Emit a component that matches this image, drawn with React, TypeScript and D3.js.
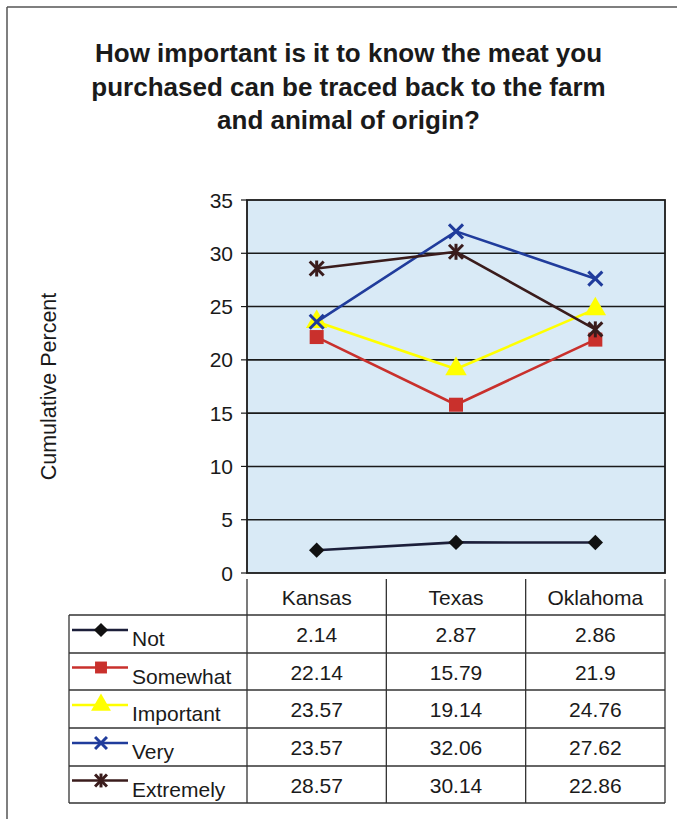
import React from "react";
import * as d3 from "d3";

const categories = ["Kansas", "Texas", "Oklahoma"];
const seriesNames = ["Not", "Somewhat", "Important", "Very", "Extremely"];
const notValues = [2.14, 2.87, 2.86];
const somewhatValues = [22.14, 15.79, 21.9];
const importantValues = [23.57, 19.14, 24.76];
const veryValues = [23.57, 32.06, 27.62];
const extremelyValues = [28.57, 30.14, 22.86];
const valueLabels = [
  ["2.14", "2.87", "2.86"],
  ["22.14", "15.79", "21.9"],
  ["23.57", "19.14", "24.76"],
  ["23.57", "32.06", "27.62"],
  ["28.57", "30.14", "22.86"],
];
const yTicks = [0, 5, 10, 15, 20, 25, 30, 35];
const titleLines = [
  "How important is it to know the meat you",
  "purchased can be traced back to the farm",
  "and animal of origin?",
];
const yAxisTitle = "Cumulative Percent";

const seriesValues = [notValues, somewhatValues, importantValues, veryValues, extremelyValues];
const colors = ["#1c1f3a", "#c9302c", "#ffff00", "#203c9c", "#3a1c1c"];
const markerColors = ["#111111", "#c9302c", "#ffff00", "#203c9c", "#3a1c1c"];
const markerTypes = ["diamond", "square", "triangle", "x", "star"];

const FONT = "Arial, 'Liberation Sans', Helvetica, sans-serif";

function Marker({ type, x, y, color, s = 1 }: { type: string; x: number; y: number; color: string; s?: number }) {
  if (type === "diamond") {
    const p = d3.symbol().type(d3.symbolDiamond2).size(150 * s)();
    return <path d={p || ""} transform={`translate(${x},${y})`} fill={color} />;
  }
  if (type === "square") {
    const h = 7 * s;
    return <rect x={x - h} y={y - h} width={2 * h} height={2 * h} fill={color} />;
  }
  if (type === "triangle") {
    const p = d3.symbol().type(d3.symbolTriangle).size(200 * s)();
    return <path d={p || ""} transform={`translate(${x},${y})`} fill={color} />;
  }
  if (type === "x") {
    const h = 7 * s;
    return (
      <g stroke={color} strokeWidth={3}>
        <line x1={x - h} y1={y - h} x2={x + h} y2={y + h} />
        <line x1={x - h} y1={y + h} x2={x + h} y2={y - h} />
      </g>
    );
  }
  const h = 7 * s;
  return (
    <g stroke={color} strokeWidth={3}>
      <line x1={x - h} y1={y - h} x2={x + h} y2={y + h} />
      <line x1={x - h} y1={y + h} x2={x + h} y2={y - h} />
      <line x1={x} y1={y - h - 1} x2={x} y2={y + h + 1} />
    </g>
  );
}

export default function App() {
  const W = 677;
  const H = 819;
  const plotL = 247;
  const plotR = 665;
  const plotT = 200;
  const plotB = 573;
  const tableL = 69;

  const x = d3.scaleBand<string>().domain(categories).range([plotL, plotR]);
  const y = d3.scaleLinear().domain([0, 35]).range([plotB, plotT]);
  const line = d3
    .line<number>()
    .x((_, i) => (x(categories[i]) as number) + x.bandwidth() / 2)
    .y((d) => y(d));

  const rowLines = [615, 653, 690, 728, 766, 803];
  const colEdges = [plotL, plotL + x.bandwidth(), plotL + 2 * x.bandwidth(), plotR];

  return (
    <svg
      width={W}
      height={H}
      style={{ position: "absolute", left: 0, top: 0, background: "#fff" }}
      fontFamily={FONT}
    >
      <rect x={0} y={0} width={W} height={H} fill="#ffffff" />
      {/* outer frame */}
      <line x1={7} y1={7} x2={W} y2={7} stroke="#555" strokeWidth={1.5} />
      <line x1={7} y1={7} x2={7} y2={H} stroke="#555" strokeWidth={1.5} />

      {/* title */}
      {titleLines.map((t, i) => (
        <text
          key={i}
          x={348.5}
          y={62 + i * 33.5}
          textAnchor="middle"
          fontSize={26}
          fontWeight="bold"
          fill="#1a1a1a"
        >
          {t}
        </text>
      ))}

      {/* plot area */}
      <rect x={plotL} y={plotT} width={plotR - plotL} height={plotB - plotT} fill="#d9eaf6" />
      {yTicks.map((t) => (
        <g key={t}>
          {t > 0 && t < 35 && (
            <line x1={plotL} x2={plotR} y1={y(t)} y2={y(t)} stroke="#1a1a1a" strokeWidth={1.6} />
          )}
          <line x1={plotL - 6} x2={plotL} y1={y(t)} y2={y(t)} stroke="#1a1a1a" strokeWidth={1.2} />
          <text x={233} y={y(t) + 7.5} textAnchor="end" fontSize={21} fill="#1a1a1a">
            {t}
          </text>
        </g>
      ))}
      <rect
        x={plotL}
        y={plotT}
        width={plotR - plotL}
        height={plotB - plotT}
        fill="none"
        stroke="#1a1a1a"
        strokeWidth={1.8}
      />

      <text
        transform={`translate(56,${(plotT + plotB) / 2}) rotate(-90)`}
        textAnchor="middle"
        fontSize={21.5}
        fill="#1a1a1a"
      >
        {yAxisTitle}
      </text>

      {/* series */}
      {seriesValues.map((vals, si) => (
        <g key={si}>
          <path d={line(vals) || ""} fill="none" stroke={colors[si]} strokeWidth={2.6} />
          {vals.map((v, i) => (
            <Marker
              key={i}
              type={markerTypes[si]}
              x={(x(categories[i]) as number) + x.bandwidth() / 2}
              y={y(v)}
              color={markerColors[si]}
            />
          ))}
        </g>
      ))}

      {/* data table */}
      {colEdges.map((cx, i) => (
        <line key={i} x1={cx} x2={cx} y1={579} y2={803} stroke="#333" strokeWidth={1.3} />
      ))}
      <line x1={tableL} x2={tableL} y1={615} y2={803} stroke="#333" strokeWidth={1.3} />
      {rowLines.map((ry, i) => (
        <line key={i} x1={tableL} x2={plotR} y1={ry} y2={ry} stroke="#333" strokeWidth={1.3} />
      ))}
      {categories.map((c) => (
        <text
          key={c}
          x={(x(c) as number) + x.bandwidth() / 2}
          y={605}
          textAnchor="middle"
          fontSize={21}
          fill="#1a1a1a"
        >
          {c}
        </text>
      ))}
      {seriesNames.map((name, si) => {
        const top = rowLines[si];
        const bot = rowLines[si + 1];
        const mid = (top + bot) / 2;
        return (
          <g key={name}>
            <line x1={72} x2={128} y1={mid - 4} y2={mid - 4} stroke={colors[si]} strokeWidth={2.4} />
            <Marker type={markerTypes[si]} x={101} y={mid - 4} color={markerColors[si]} s={0.85} />
            <text x={132} y={mid + 12} fontSize={21} fill="#1a1a1a">
              {name}
            </text>
            {categories.map((c, ci) => (
              <text
                key={c}
                x={(x(c) as number) + x.bandwidth() / 2}
                y={mid + 8}
                textAnchor="middle"
                fontSize={21}
                fill="#1a1a1a"
              >
                {valueLabels[si][ci]}
              </text>
            ))}
          </g>
        );
      })}
    </svg>
  );
}
